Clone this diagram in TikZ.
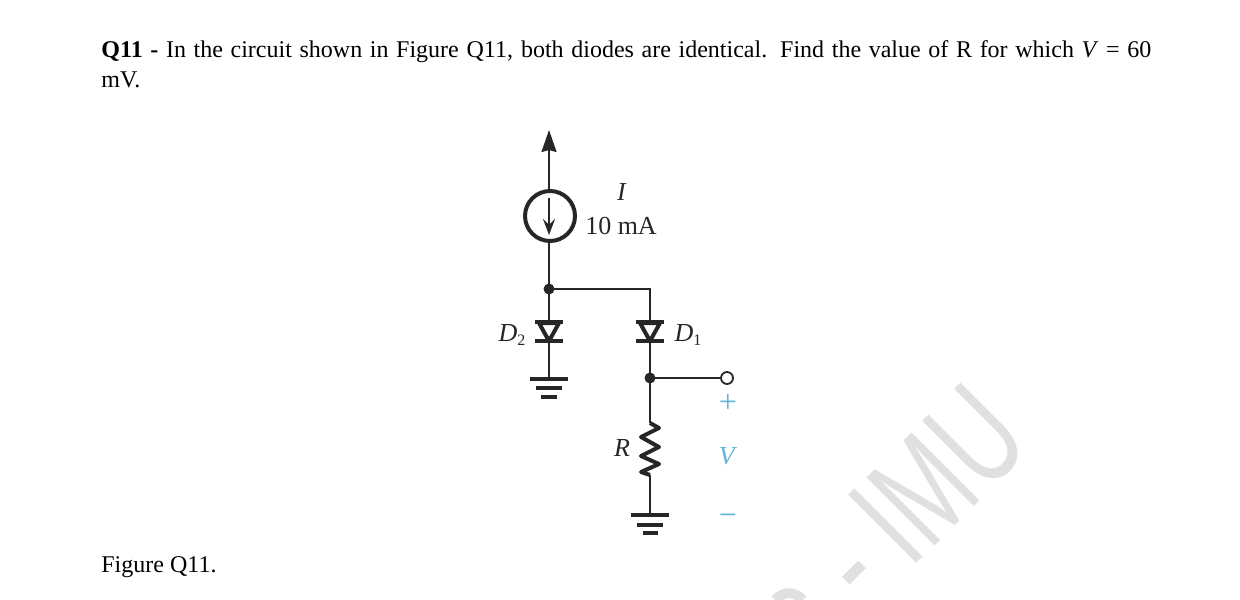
\documentclass[tikz,border=0pt]{standalone}
\usepackage{fontspec}
\setmainfont{Liberation Serif}
\newfontfamily\wmfont{Liberation Sans}
\usetikzlibrary{arrows.meta}
\definecolor{wire}{RGB}{38,38,38}
\definecolor{vblue}{RGB}{95,180,215}
\definecolor{wmgray}{RGB}{224,224,224}
\begin{document}
\begin{tikzpicture}[x=.5pt,y=-.5pt]
\tikzstyle{every node}=[inner sep=0pt, text=wire, font=\fontsize{13}{15}\selectfont]
\tikzstyle{wirepath}=[draw=wire, line width=1pt]
\tikzstyle{heavy}=[draw=wire, line width=2pt]
\tikzstyle{junction}=[circle, fill=wire, minimum width=5.5pt, outer sep=-1pt]
\tikzstyle{terminal}=[circle, draw=wire, line width=.9pt, fill=white, minimum width=6pt]
\tikzstyle{volt}=[text=vblue]
\useasboundingbox (0,0) rectangle (1240,599);
\clip (0,0) rectangle (1240,599);
\draw (918,495) node (mark) [rotate=45, xscale=.68, text=wmgray, font=\wmfont\fontsize{70}{70}\selectfont] {- IMU};
\draw [draw=wmgray, line width=5pt] (775,600) .. controls (783,591) and (795,591) .. (803,600);
\draw (101,40) node (question) [anchor=north west, text=black, text width=525pt, align=justify, font=\fontsize{12}{15}\selectfont] {\textbf{Q11 -} In the circuit shown in Figure Q11, both diodes are identical. Find the value of R for which \textit{V} = 60\linebreak mV.};
\draw (101,567) node (caption) [anchor=west, text=black, font=\fontsize{12}{15}\selectfont] {Figure Q11.};
\coordinate (vdd) at (549,130);
\draw (550,216) node (src) [circle, draw=wire, line width=2pt, minimum width=25pt] {};
\coordinate (srctop) at (549,198);
\coordinate (srcbot) at (549,235);
\draw (549,289) node (v1) [junction] {};
\coordinate (v2) at (650,289);
\coordinate (d2top) at (549,322);
\coordinate (d2tip) at (549,341);
\coordinate (d1top) at (650,322);
\coordinate (d1tip) at (650,341);
\coordinate (g2) at (549,379);
\draw (650,378) node (v3) [junction] {};
\draw (727,378) node (out) [terminal] {};
\coordinate (r1) at (650,423);
\coordinate (r2) at (650,475);
\coordinate (g1) at (650,515);
\draw [wirepath, -{Stealth[length=11pt,width=7.5pt,inset=1pt]}] (src) ++(-1,-27) -- (vdd);
\draw [wirepath, line width=1.2pt, -{Stealth[length=8pt,width=6pt,inset=3pt]}] (srctop) -- (srcbot);
\draw [wirepath] (src) ++(-1,27) -- (v1);
\draw [wirepath] (v1) -- (v2) -- (d1top);
\draw [wirepath] (v1) -- (d2top);
\draw [wirepath] (d2tip) -- (g2);
\draw [wirepath] (d1tip) -- (v3);
\draw [wirepath] (v3) -- (out);
\draw [wirepath] (v3) -- (r1);
\draw [heavy, line join=round] (r1) -- (659,428) -- (641,437) -- (659,447) -- (641,456) -- (659,464) -- (641,472) -- (r2);
\draw [wirepath] (r2) -- (g1);
\draw [heavy, line join=miter] (d2top) ++(-10,1) -- ++(20,0) -- (d2tip) -- cycle;
\draw [heavy] (535,341) -- (563,341);
\draw [heavy] (535,322) -- (563,322);
\draw [heavy, line join=miter] (d1top) ++(-10,1) -- ++(20,0) -- (d1tip) -- cycle;
\draw [heavy] (636,341) -- (664,341);
\draw [heavy] (636,322) -- (664,322);
\draw [heavy] (530,379) -- (568,379);
\draw [heavy] (536,388) -- (562,388);
\draw [heavy] (541,397) -- (557,397);
\draw [heavy] (631,515) -- (669,515);
\draw [heavy] (637,525) -- (663,525);
\draw [heavy] (643,533) -- (658,533);
\draw (622,192) node (ilabel) {\textit{I}};
\draw (621,226) node (ival) {10 mA};
\draw (512,335) node (d2label) {\textit{D}\raisebox{-2pt}{\fontsize{8}{8}\selectfont 2}};
\draw (688,335) node (d1label) {\textit{D}\raisebox{-2pt}{\fontsize{8}{8}\selectfont 1}};
\draw (622,448) node (rlabel) {\textit{R}};
\draw (728,403) node (vplus) [volt, font=\fontsize{16}{16}\selectfont] {+};
\draw (728,456) node (vlabel) [volt] {\textit{V}};
\draw (728,520) node (vminus) [volt, font=\fontsize{16}{16}\selectfont] {\textminus};
\end{tikzpicture}
\end{document}
